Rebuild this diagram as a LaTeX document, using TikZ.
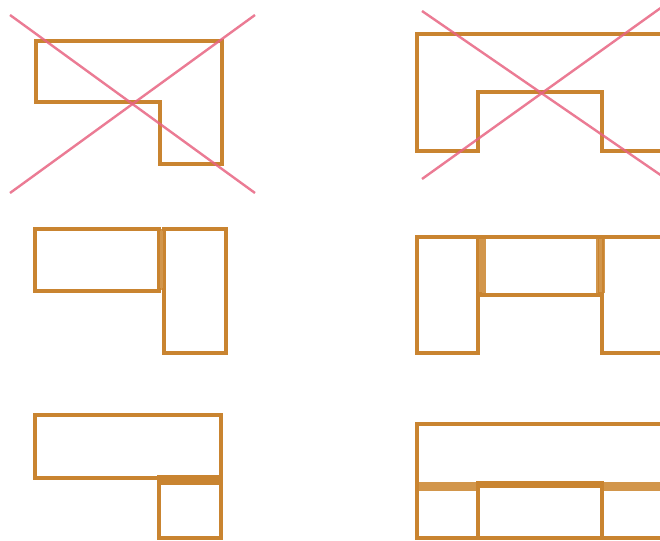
\documentclass[tikz,border=0pt]{standalone}
\usepackage{tikz}
\definecolor{wall}{RGB}{201,132,48}
\definecolor{joint}{RGB}{210,150,75}
\definecolor{cross}{RGB}{232,100,130}
\tikzset{
  outline/.style={draw=wall, line width=4pt, line join=miter},
  jointband/.style={draw=joint, line width=9pt},
  crossline/.style={draw=cross, line width=2.4pt, opacity=0.85},
}
\begin{document}
\begin{tikzpicture}[x=1pt,y=-1pt]
\useasboundingbox (0,0) rectangle (660,540);
\clip (0,0) rectangle (660,540);
\fill[white] (0,0) rectangle (660,540);
% ---- panel 1: L shape, crossed out
\draw[outline] (36,41) -- (222,41) -- (222,164) -- (160,164) -- (160,102) -- (36,102) -- cycle;
\draw[crossline] (10,15) -- (255,193);
\draw[crossline] (10,193) -- (255,15);
% ---- panel 2: U shape, crossed out
\draw[outline] (417,34) -- (666,34) -- (666,151) -- (602,151) -- (602,92) -- (478,92) -- (478,151) -- (417,151) -- cycle;
\draw[crossline] (422,11) -- (662,176);
\draw[crossline] (422,179) -- (662,7);
% ---- panel 3: two parts, vertical joint
\draw[jointband] (161,229) -- (161,290);
\draw[outline] (35,229) rectangle (158.5,290.5);
\draw[outline] (164,229) rectangle (226,353);
\draw[draw=joint, line width=3pt] (161.2,231) -- (161.2,288);
% ---- panel 4: three parts, two vertical joints
\draw[jointband] (481,237) -- (481,293);
\draw[jointband] (600,237) -- (600,293);
\draw[outline] (417,237) rectangle (478,353);
\draw[outline] (480,237) rectangle (600,295);
\draw[outline] (602,237) rectangle (666,353);
\draw[draw=joint, line width=3pt] (480.8,239) -- (480.8,292);
\draw[draw=joint, line width=3pt] (600.2,239) -- (600.2,292);
% ---- panel 5: two parts, horizontal joint
\draw[outline] (35,415) rectangle (221,478);
\draw[outline] (159,482.5) rectangle (221,538);
\draw[jointband, draw=wall] (157,479.5) -- (223,479.5);
% ---- panel 6: three parts, horizontal joints
\draw[outline] (417,424) rectangle (666,486);
\draw[outline] (417,486) rectangle (478,538);
\draw[outline] (478,483) rectangle (602,538);
\draw[outline] (602,486) rectangle (666,538);
\draw[jointband] (419,486) -- (476,486);
\draw[jointband] (604,486) -- (666,486);
\end{tikzpicture}
\end{document}
